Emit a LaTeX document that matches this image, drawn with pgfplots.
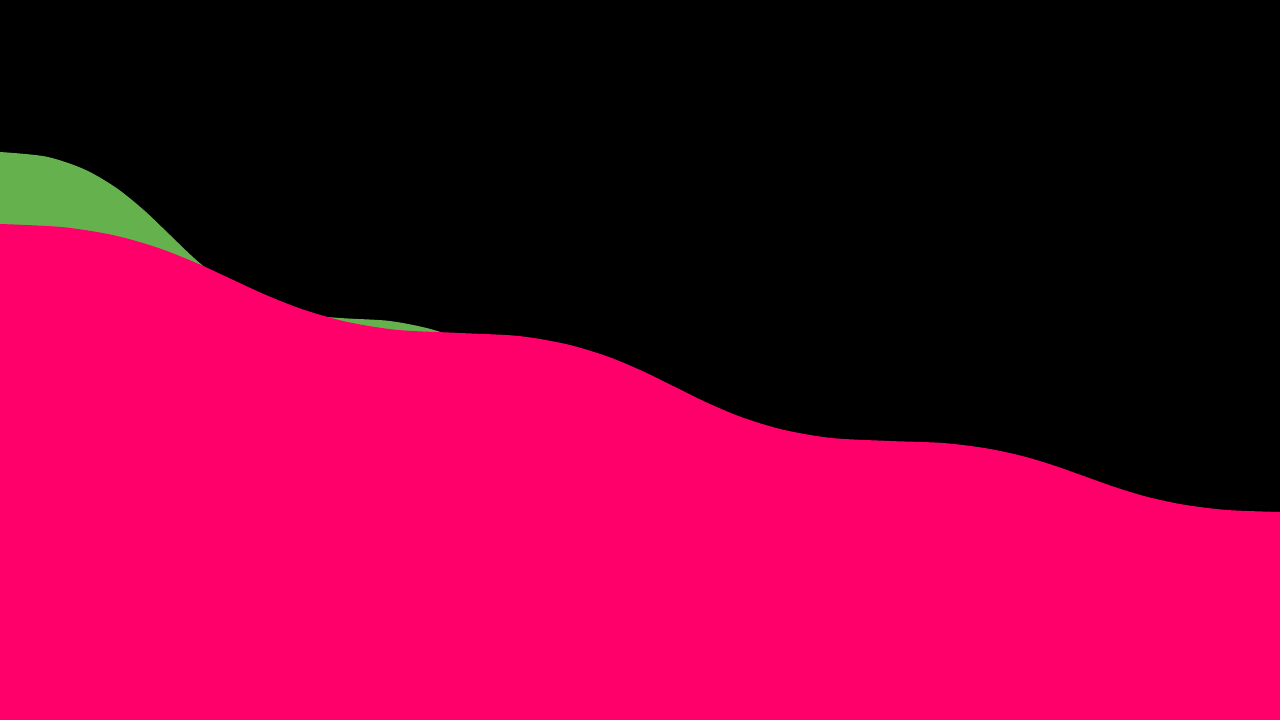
\documentclass[border=0pt]{standalone}
\usepackage{pgfplots}
\pgfplotsset{compat=1.18}
\definecolor{wavegreen}{RGB}{101,177,78}
\definecolor{wavepink}{RGB}{255,0,106}

\begin{document}
\begin{tikzpicture}
    \begin{axis}[
        width=12.8cm, height=7.2cm,
        scale only axis,
        hide axis,
        xmin=0, xmax=1280,
        ymin=0, ymax=720,
        enlargelimits=false,
    ]
    % background
    \fill[black] (rel axis cs:0,0) rectangle (rel axis cs:1,1);
    % back wave
    \addplot[fill=wavegreen, draw=none, smooth] coordinates {
        (0,568) (46,563.4) (84.3,550.7) (116.3,532.1) (144.2,509.6)
        (170,485) (195.8,460.4) (223.7,437.9) (255.7,419.3) (293.8,406.6)
        (340,402) (389,399.1) (429,391.4) (463,380) (492.6,366.1)
        (520,351) (600,320) (700,300) (850,265) (1000,240) (1280,190)
    } \closedcycle;
    % front wave
    \addplot[fill=wavepink, draw=none, smooth] coordinates {
        (0,496) (62.6,492.9) (114,484.7) (157,472.5) (195,457.6)
        (230,441.5) (265,425.4) (303,410.5) (346,398.3) (397,390.1)
        (460,387) (518.5,384) (566.6,375.8) (607,363.7) (642.3,349)
        (675,333) (707.7,317) (743,302.3) (783.4,290.2) (831.5,282)
        (890,279) (943,277) (986.7,271.6) (1023.4,263.7) (1055.4,254)
        (1085,243.5) (1114.6,233) (1146.6,223.3) (1183.3,215.4) (1227,210)
        (1280,208)
    } \closedcycle;
    \end{axis}
\end{tikzpicture}
\end{document}
